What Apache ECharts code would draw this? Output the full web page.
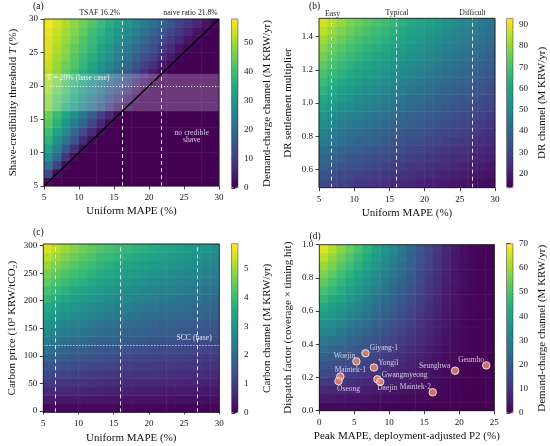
<!DOCTYPE html>
<html>
<head>
<meta charset="utf-8">
<script src="https://cdn.jsdelivr.net/npm/echarts@6/dist/echarts.min.js"></script>
<style>
  html, body { margin: 0; padding: 0; background: #fff; }
  #chart { width: 550px; height: 446px; }
</style>
</head>
<body>
<div id="chart"></div>
<script>
const FONT = 'Liberation Serif';
const viridis = ['#440154', '#482475', '#414487', '#355f8d', '#2a788e', '#21918c',
  '#22a884', '#44bf70', '#7ad151', '#bddf26', '#fde725'];

// ---- (a) demand-charge channel: rows = threshold T (low -> high), cols = uniform MAPE (low -> high)
const aRange = [5, 30];
const aTicks = [5, 10, 15, 20, 25, 30];
const aRefX = [16.2, 21.8];        // TSAF, naive ratio
const aBaseT = 20;
const aCbRange = [0, 58];
const aCbTicks = [0, 10, 20, 30, 40, 50];
const aMatrix = [
  [2, 0, 0, 0, 0, 0, 0, 0, 0, 0, 0, 0, 0, 0, 0, 0, 0, 0, 0, 0],
  [13, 2, 0, 0, 0, 0, 0, 0, 0, 0, 0, 0, 0, 0, 0, 0, 0, 0, 0, 0],
  [22, 11, 2, 0, 0, 0, 0, 0, 0, 0, 0, 0, 0, 0, 0, 0, 0, 0, 0, 0],
  [28, 19, 9, 2, 0, 0, 0, 0, 0, 0, 0, 0, 0, 0, 0, 0, 0, 0, 0, 0],
  [33, 25, 16, 8, 2, 0, 0, 0, 0, 0, 0, 0, 0, 0, 0, 0, 0, 0, 0, 0],
  [37, 29, 22, 15, 7, 2, 0, 0, 0, 0, 0, 0, 0, 0, 0, 0, 0, 0, 0, 0],
  [40, 33, 27, 20, 13, 7, 2, 0, 0, 0, 0, 0, 0, 0, 0, 0, 0, 0, 0, 0],
  [43, 37, 30, 24, 18, 12, 6, 2, 0, 0, 0, 0, 0, 0, 0, 0, 0, 0, 0, 0],
  [45, 39, 34, 28, 22, 17, 11, 6, 2, 0, 0, 0, 0, 0, 0, 0, 0, 0, 0, 0],
  [47, 42, 36, 31, 26, 21, 16, 10, 5, 2, 0, 0, 0, 0, 0, 0, 0, 0, 0, 0],
  [48, 43, 39, 34, 29, 24, 19, 14, 10, 5, 2, 0, 0, 0, 0, 0, 0, 0, 0, 0],
  [50, 45, 41, 36, 32, 27, 23, 18, 14, 9, 5, 2, 0, 0, 0, 0, 0, 0, 0, 0],
  [51, 47, 42, 38, 34, 30, 25, 21, 17, 13, 8, 4, 1, 0, 0, 0, 0, 0, 0, 0],
  [52, 48, 44, 40, 36, 32, 28, 24, 20, 16, 12, 8, 4, 1, 0, 0, 0, 0, 0, 0],
  [53, 49, 45, 42, 38, 34, 30, 26, 23, 19, 15, 11, 8, 4, 1, 0, 0, 0, 0, 0],
  [54, 50, 47, 43, 39, 36, 32, 29, 25, 22, 18, 14, 11, 7, 4, 1, 0, 0, 0, 0],
  [55, 51, 48, 44, 41, 38, 34, 31, 27, 24, 20, 17, 14, 10, 7, 3, 1, 0, 0, 0],
  [55, 52, 49, 46, 42, 39, 36, 33, 29, 26, 23, 20, 16, 13, 10, 7, 3, 1, 0, 0],
  [56, 53, 50, 47, 44, 40, 37, 34, 31, 28, 25, 22, 19, 16, 12, 9, 6, 3, 1, 0],
  [57, 54, 51, 48, 45, 42, 39, 36, 33, 30, 27, 24, 21, 18, 15, 12, 9, 6, 3, 1]
];

// ---- (b) DR channel: rows = settlement multiplier, cols = uniform MAPE
const bXRange = [5, 30];
const bYRange = [0.49, 1.51];
const bYTicks = [0.6, 0.8, 1.0, 1.2, 1.4];
const bRefX = [6.7, 16.0, 26.8];   // Easy, Typical, Difficult
const bCbRange = [13.4, 93];
const bCbTicks = [20, 30, 40, 50, 60, 70, 80, 90];
const bMatrix = [
  [31.2, 29.7, 28.5, 27.5, 26.6, 25.8, 25.0, 24.2, 23.4, 22.7, 21.9, 21.2, 20.5, 19.8, 19.1, 18.4, 17.7, 17.1, 16.4, 15.7],
  [34.2, 32.5, 31.2, 30.1, 29.1, 28.2, 27.4, 26.5, 25.7, 24.8, 24.0, 23.2, 22.5, 21.7, 20.9, 20.2, 19.4, 18.7, 17.9, 17.2],
  [37.2, 35.3, 33.9, 32.7, 31.6, 30.7, 29.8, 28.8, 27.9, 27.0, 26.1, 25.3, 24.4, 23.6, 22.8, 21.9, 21.1, 20.3, 19.5, 18.7],
  [40.2, 38.1, 36.6, 35.3, 34.2, 33.1, 32.1, 31.1, 30.1, 29.2, 28.2, 27.3, 26.4, 25.5, 24.6, 23.7, 22.8, 21.9, 21.1, 20.2],
  [43.1, 41.0, 39.3, 37.9, 36.7, 35.6, 34.5, 33.4, 32.3, 31.3, 30.3, 29.3, 28.3, 27.4, 26.4, 25.4, 24.5, 23.6, 22.6, 21.7],
  [46.1, 43.8, 42.0, 40.5, 39.2, 38.1, 36.9, 35.7, 34.6, 33.5, 32.4, 31.3, 30.3, 29.3, 28.2, 27.2, 26.2, 25.2, 24.2, 23.2],
  [49.1, 46.6, 44.7, 43.1, 41.7, 40.5, 39.3, 38.0, 36.8, 35.6, 34.5, 33.3, 32.3, 31.2, 30.0, 29.0, 27.9, 26.8, 25.7, 24.7],
  [52.1, 49.4, 47.4, 45.8, 44.3, 43.0, 41.7, 40.3, 39.0, 37.8, 36.6, 35.4, 34.2, 33.1, 31.9, 30.7, 29.6, 28.4, 27.3, 26.2],
  [55.0, 52.3, 50.1, 48.4, 46.8, 45.4, 44.0, 42.6, 41.3, 40.0, 38.7, 37.4, 36.2, 35.0, 33.7, 32.5, 31.3, 30.1, 28.9, 27.7],
  [58.0, 55.1, 52.8, 51.0, 49.3, 47.9, 46.4, 44.9, 43.5, 42.1, 40.8, 39.4, 38.1, 36.9, 35.5, 34.2, 33.0, 31.7, 30.4, 29.2],
  [61.0, 57.9, 55.6, 53.6, 51.9, 50.3, 48.8, 47.3, 45.7, 44.3, 42.8, 41.4, 40.1, 38.7, 37.3, 36.0, 34.6, 33.3, 32.0, 30.6],
  [64.0, 60.7, 58.3, 56.2, 54.4, 52.8, 51.2, 49.6, 47.9, 46.4, 44.9, 43.4, 42.0, 40.6, 39.1, 37.7, 36.3, 34.9, 33.5, 32.1],
  [66.9, 63.6, 61.0, 58.8, 56.9, 55.2, 53.6, 51.9, 50.2, 48.6, 47.0, 45.5, 44.0, 42.5, 41.0, 39.5, 38.0, 36.6, 35.1, 33.6],
  [69.9, 66.4, 63.7, 61.5, 59.5, 57.7, 55.9, 54.2, 52.4, 50.8, 49.1, 47.5, 45.9, 44.4, 42.8, 41.2, 39.7, 38.2, 36.7, 35.1],
  [72.9, 69.2, 66.4, 64.1, 62.0, 60.1, 58.3, 56.5, 54.6, 52.9, 51.2, 49.5, 47.9, 46.3, 44.6, 43.0, 41.4, 39.8, 38.2, 36.6],
  [75.9, 72.0, 69.1, 66.7, 64.5, 62.6, 60.7, 58.8, 56.9, 55.1, 53.3, 51.5, 49.9, 48.2, 46.4, 44.8, 43.1, 41.4, 39.8, 38.1],
  [78.8, 74.9, 71.8, 69.3, 67.0, 65.1, 63.1, 61.1, 59.1, 57.2, 55.4, 53.5, 51.8, 50.1, 48.2, 46.5, 44.8, 43.1, 41.3, 39.6],
  [81.8, 77.7, 74.5, 71.9, 69.6, 67.5, 65.5, 63.4, 61.3, 59.4, 57.5, 55.6, 53.8, 52.0, 50.1, 48.3, 46.5, 44.7, 42.9, 41.1],
  [84.8, 80.5, 77.2, 74.5, 72.1, 70.0, 67.8, 65.7, 63.6, 61.6, 59.6, 57.6, 55.7, 53.9, 51.9, 50.0, 48.2, 46.3, 44.5, 42.6],
  [87.8, 83.3, 79.9, 77.1, 74.6, 72.4, 70.2, 68.0, 65.8, 63.7, 61.7, 59.6, 57.7, 55.8, 53.7, 51.8, 49.9, 47.9, 46.0, 44.1]
];

// ---- (c) carbon channel: rows = carbon price, cols = uniform MAPE
const cXRange = [5, 30];
const cYRange = [-2.5, 303];
const cYTicks = [0, 50, 100, 150, 200, 250, 300];
const cRefX = [6.7, 16.0, 26.8];
const cScc = 120;
const cCbRange = [0, 5.85];
const cCbTicks = [0, 1, 2, 3, 4, 5];
const cMatrix = [
  [0.14, 0.13, 0.13, 0.12, 0.12, 0.11, 0.11, 0.11, 0.10, 0.10, 0.10, 0.09, 0.09, 0.09, 0.09, 0.08, 0.08, 0.08, 0.08, 0.08],
  [0.42, 0.40, 0.38, 0.37, 0.35, 0.34, 0.33, 0.32, 0.30, 0.30, 0.29, 0.28, 0.27, 0.27, 0.26, 0.25, 0.25, 0.24, 0.23, 0.23],
  [0.71, 0.67, 0.64, 0.61, 0.59, 0.57, 0.55, 0.53, 0.51, 0.49, 0.48, 0.47, 0.45, 0.44, 0.43, 0.42, 0.41, 0.40, 0.39, 0.38],
  [0.99, 0.94, 0.89, 0.86, 0.82, 0.79, 0.76, 0.74, 0.71, 0.69, 0.67, 0.65, 0.64, 0.62, 0.60, 0.59, 0.57, 0.56, 0.54, 0.53],
  [1.27, 1.20, 1.15, 1.10, 1.06, 1.02, 0.98, 0.95, 0.91, 0.89, 0.86, 0.84, 0.82, 0.80, 0.78, 0.76, 0.74, 0.72, 0.70, 0.68],
  [1.55, 1.47, 1.40, 1.35, 1.29, 1.24, 1.20, 1.16, 1.12, 1.08, 1.05, 1.03, 1.00, 0.97, 0.95, 0.92, 0.90, 0.87, 0.85, 0.83],
  [1.84, 1.74, 1.66, 1.59, 1.53, 1.47, 1.42, 1.37, 1.32, 1.28, 1.24, 1.21, 1.18, 1.15, 1.12, 1.09, 1.06, 1.03, 1.00, 0.98],
  [2.12, 2.01, 1.91, 1.84, 1.76, 1.70, 1.64, 1.58, 1.52, 1.48, 1.44, 1.40, 1.36, 1.33, 1.29, 1.26, 1.23, 1.19, 1.16, 1.13],
  [2.40, 2.27, 2.17, 2.08, 2.00, 1.92, 1.85, 1.79, 1.73, 1.67, 1.63, 1.59, 1.54, 1.50, 1.47, 1.43, 1.39, 1.35, 1.31, 1.28],
  [2.68, 2.54, 2.42, 2.33, 2.23, 2.15, 2.07, 2.00, 1.93, 1.87, 1.82, 1.77, 1.72, 1.68, 1.64, 1.60, 1.55, 1.51, 1.47, 1.43],
  [2.97, 2.81, 2.68, 2.57, 2.47, 2.37, 2.29, 2.21, 2.13, 2.07, 2.01, 1.96, 1.91, 1.86, 1.81, 1.76, 1.72, 1.67, 1.62, 1.58],
  [3.25, 3.08, 2.93, 2.82, 2.70, 2.60, 2.51, 2.42, 2.33, 2.27, 2.20, 2.14, 2.09, 2.04, 1.98, 1.93, 1.88, 1.83, 1.78, 1.73],
  [3.53, 3.34, 3.19, 3.06, 2.94, 2.83, 2.73, 2.63, 2.54, 2.46, 2.39, 2.33, 2.27, 2.21, 2.16, 2.10, 2.04, 1.99, 1.93, 1.88],
  [3.81, 3.61, 3.44, 3.31, 3.17, 3.05, 2.94, 2.84, 2.74, 2.66, 2.59, 2.52, 2.45, 2.39, 2.33, 2.27, 2.21, 2.15, 2.09, 2.03],
  [4.10, 3.88, 3.70, 3.55, 3.41, 3.28, 3.16, 3.05, 2.94, 2.86, 2.78, 2.70, 2.63, 2.57, 2.50, 2.44, 2.37, 2.31, 2.24, 2.18],
  [4.38, 4.15, 3.95, 3.80, 3.64, 3.50, 3.38, 3.26, 3.15, 3.05, 2.97, 2.89, 2.81, 2.74, 2.67, 2.60, 2.53, 2.46, 2.39, 2.33],
  [4.66, 4.41, 4.21, 4.04, 3.88, 3.73, 3.60, 3.47, 3.35, 3.25, 3.16, 3.08, 2.99, 2.92, 2.85, 2.77, 2.70, 2.62, 2.55, 2.48],
  [4.94, 4.68, 4.46, 4.29, 4.11, 3.96, 3.82, 3.68, 3.55, 3.45, 3.35, 3.26, 3.18, 3.10, 3.02, 2.94, 2.86, 2.78, 2.70, 2.63],
  [5.23, 4.95, 4.72, 4.53, 4.35, 4.18, 4.03, 3.89, 3.76, 3.64, 3.54, 3.45, 3.36, 3.27, 3.19, 3.11, 3.02, 2.94, 2.86, 2.78],
  [5.51, 5.22, 4.97, 4.78, 4.58, 4.41, 4.25, 4.10, 3.96, 3.84, 3.73, 3.64, 3.54, 3.45, 3.36, 3.28, 3.19, 3.10, 3.01, 2.93]
];

// ---- (d) demand-charge channel by site: rows = dispatch factor, cols = peak MAPE
const dXRange = [0, 25];
const dYRange = [0, 1];
const dXTicks = [0, 5, 10, 15, 20, 25];
const dYTicks = [0, 0.2, 0.4, 0.6, 0.8, 1.0];
const dCbRange = [0, 70];
const dCbTicks = [0, 10, 20, 30, 40, 50, 60, 70];
const dMatrix = [
  [1.7, 1.6, 1.5, 1.4, 1.3, 1.2, 1.0, 0.9, 0.8, 0.7, 0.6, 0.5, 0.4, 0.3, 0.2, 0.1, 0.1, 0, 0, 0],
  [5.1, 4.8, 4.4, 4.1, 3.8, 3.5, 3.1, 2.8, 2.5, 2.1, 1.8, 1.5, 1.2, 0.9, 0.6, 0.4, 0.2, 0.1, 0.1, 0],
  [8.5, 7.9, 7.4, 6.8, 6.3, 5.8, 5.2, 4.6, 4.1, 3.6, 3.0, 2.4, 1.9, 1.4, 1.0, 0.6, 0.4, 0.2, 0.1, 0.1],
  [11.9, 11.1, 10.3, 9.5, 8.8, 8.1, 7.3, 6.5, 5.8, 5.0, 4.2, 3.4, 2.7, 2.0, 1.4, 0.9, 0.5, 0.3, 0.2, 0.1],
  [15.3, 14.3, 13.3, 12.3, 11.4, 10.4, 9.3, 8.3, 7.4, 6.4, 5.4, 4.4, 3.5, 2.6, 1.8, 1.1, 0.7, 0.4, 0.2, 0.1],
  [18.7, 17.5, 16.2, 15.0, 13.9, 12.7, 11.4, 10.2, 9.1, 7.8, 6.6, 5.4, 4.3, 3.2, 2.2, 1.4, 0.8, 0.4, 0.2, 0.1],
  [22.1, 20.6, 19.2, 17.7, 16.4, 15.0, 13.5, 12.0, 10.7, 9.3, 7.8, 6.3, 5.0, 3.7, 2.6, 1.6, 1.0, 0.5, 0.3, 0.2],
  [25.5, 23.8, 22.1, 20.4, 18.9, 17.3, 15.6, 13.9, 12.4, 10.7, 9.0, 7.3, 5.8, 4.3, 3.0, 1.9, 1.1, 0.6, 0.3, 0.2],
  [28.9, 27.0, 25.1, 23.2, 21.5, 19.6, 17.6, 15.7, 14.0, 12.1, 10.2, 8.3, 6.6, 4.9, 3.4, 2.1, 1.3, 0.7, 0.4, 0.2],
  [32.3, 30.2, 28.0, 25.9, 24.0, 21.9, 19.7, 17.6, 15.7, 13.5, 11.4, 9.3, 7.4, 5.5, 3.8, 2.4, 1.4, 0.8, 0.4, 0.2],
  [35.7, 33.3, 31.0, 28.6, 26.5, 24.2, 21.8, 19.4, 17.3, 15.0, 12.6, 10.2, 8.1, 6.0, 4.2, 2.6, 1.6, 0.8, 0.5, 0.3],
  [39.1, 36.5, 33.9, 31.3, 29.0, 26.5, 23.9, 21.3, 19.0, 16.4, 13.8, 11.2, 8.9, 6.6, 4.6, 2.9, 1.7, 0.9, 0.5, 0.3],
  [42.5, 39.7, 36.9, 34.1, 31.6, 28.8, 25.9, 23.1, 20.6, 17.8, 15.0, 12.2, 9.7, 7.2, 5.0, 3.1, 1.9, 1.0, 0.6, 0.3],
  [45.9, 42.9, 39.8, 36.8, 34.1, 31.1, 28.0, 25.0, 22.3, 19.2, 16.2, 13.2, 10.5, 7.8, 5.4, 3.4, 2.0, 1.1, 0.6, 0.3],
  [49.3, 46.0, 42.8, 39.5, 36.6, 33.4, 30.1, 26.8, 23.9, 20.7, 17.4, 14.1, 11.2, 8.3, 5.8, 3.6, 2.2, 1.2, 0.7, 0.4],
  [52.7, 49.2, 45.7, 42.2, 39.1, 35.7, 32.2, 28.7, 25.6, 22.1, 18.6, 15.1, 12.0, 8.9, 6.2, 3.9, 2.3, 1.2, 0.7, 0.4],
  [56.1, 52.4, 48.7, 45.0, 41.7, 38.0, 34.2, 30.5, 27.2, 23.5, 19.8, 16.1, 12.8, 9.5, 6.6, 4.1, 2.5, 1.3, 0.7, 0.4],
  [59.5, 55.6, 51.6, 47.7, 44.2, 40.3, 36.3, 32.4, 28.9, 24.9, 21.0, 17.1, 13.6, 10.1, 7.0, 4.4, 2.6, 1.4, 0.8, 0.4],
  [62.9, 58.7, 54.6, 50.4, 46.7, 42.6, 38.4, 34.2, 30.5, 26.4, 22.2, 18.0, 14.3, 10.6, 7.4, 4.6, 2.8, 1.5, 0.8, 0.5],
  [66.3, 61.9, 57.5, 53.1, 49.2, 44.9, 40.5, 36.1, 32.2, 27.8, 23.4, 19.0, 15.1, 11.2, 7.8, 4.9, 2.9, 1.6, 0.9, 0.5]
];
const siteNames = ['Giyang-1', 'Woejin', 'Yongil', 'Maintek-1', 'Oseong',
  'Gwangmyeong', 'Daejin', 'Maintek-2', 'Seunghwa', 'Geumho'];
const sitePeakMape = [6.6, 5.3, 7.8, 3.0, 2.75, 8.3, 8.7, 16.2, 19.4, 23.85];
const siteDispatch = [0.346, 0.297, 0.260, 0.206, 0.178, 0.189, 0.174, 0.111, 0.241, 0.273];

// label placement per site (style only)
const siteLabel = {
  'Giyang-1': ['right', [-1, -5]],
  'Woejin': ['left', [4, -5]],
  'Yongil': ['right', [-1, -5]],
  'Maintek-1': ['top', [10, 3]],
  'Oseong': ['bottom', [10, -1]],
  'Gwangmyeong': ['right', [-1, -4]],
  'Daejin': ['bottom', [7, -3]],
  'Maintek-2': ['left', [3.5, -5]],
  'Seunghwa': ['left', [0.5, -5]],
  'Geumho': ['left', [3, -5]]
};

// ---- layout (pixels)
const panels = [
  { box: { left: 44, top: 19, width: 175, height: 167 }, cb: { left: 231.5, top: 19, width: 6.5, height: 169 } },
  { box: { left: 319, top: 18.3, width: 176, height: 169.4 }, cb: { left: 506.5, top: 18.3, width: 6.5, height: 169.4 } },
  { box: { left: 43.3, top: 244, width: 176, height: 168.3 }, cb: { left: 231.5, top: 243.7, width: 6.5, height: 169.3 } },
  { box: { left: 319.3, top: 244.7, width: 175, height: 166 }, cb: { left: 506.5, top: 243.7, width: 6.5, height: 169.3 } }
];

const chart = echarts.init(document.getElementById('chart'), null, { renderer: 'canvas' });

function heatData(m) {
  const out = [];
  m.forEach((row, j) => row.forEach((v, i) => out.push([i, j, v])));
  return out;
}

function catAxis(gridIndex, n) {
  return {
    type: 'category', gridIndex, show: false, boundaryGap: true,
    data: Array.from({ length: n }, (_, i) => String(i))
  };
}

function valAxis(gridIndex, position, range, ticks, name, nameGap, fmt, rich) {
  const nameStyle = { fontFamily: FONT, fontSize: 11, color: '#111' };
  if (rich) nameStyle.rich = rich;
  return {
    type: 'value', gridIndex, position, min: range[0], max: range[1],
    name, nameLocation: 'middle', nameGap,
    nameRotate: (position === 'left' || position === 'right') ? 90 : 0,
    nameTextStyle: nameStyle,
    axisLine: { show: false },
    axisTick: { show: true, inside: false, length: 3.5, customValues: ticks,
      lineStyle: { color: '#111', width: 0.8 } },
    axisLabel: { show: true, customValues: ticks, formatter: fmt || (v => String(v)),
      fontFamily: FONT, fontSize: 9, color: '#111', margin: position === 'bottom' ? 7 : 6 },
    splitLine: { show: false }
  };
}

const grids = [], xAxes = [], yAxes = [], series = [], visualMaps = [];

const mats = [aMatrix, bMatrix, cMatrix, dMatrix];
const cbRanges = [aCbRange, bCbRange, cCbRange, dCbRange];
const cbTicks = [aCbTicks, bCbTicks, cCbTicks, dCbTicks];
const cbNames = ['Demand-charge channel (M KRW/yr)', 'DR channel (M KRW/yr)',
  'Carbon channel (M KRW/yr)', 'Demand-charge channel (M KRW/yr)'];
const xSpecs = [
  [aRange, aTicks, 'Uniform MAPE (%)'],
  [bXRange, aTicks, 'Uniform MAPE (%)'],
  [cXRange, aTicks, 'Uniform MAPE (%)'],
  [dXRange, dXTicks, 'Peak MAPE, deployment-adjusted P2 (%)']
];
const ySpecs = [
  [aRange, aTicks, 'Shave-credibility threshold {i|T} (%)', null],
  [bYRange, bYTicks, 'DR settlement multiplier', v => v.toFixed(1)],
  [cYRange, cYTicks, 'Carbon price (10³ KRW/tCO₂)', null],
  [dYRange, dYTicks, 'Dispatch factor (coverage × timing hit)', v => v.toFixed(1)]
];
const italicRich = { i: { fontStyle: 'italic', fontFamily: FONT, fontSize: 11, color: '#111' } };

panels.forEach((p, k) => {
  const g = 3 * k;
  grids.push(Object.assign({ show: false }, p.box));
  grids.push(Object.assign({ show: true, borderColor: '#111', borderWidth: 0.8,
    backgroundColor: 'transparent', z: 10 }, p.box));
  grids.push(Object.assign({ show: true, borderColor: '#333', borderWidth: 0.5,
    backgroundColor: 'transparent', z: 10 }, p.cb));

  const m = mats[k];
  xAxes.push(catAxis(g, m[0].length));
  yAxes.push(catAxis(g, m.length));

  xAxes.push(valAxis(g + 1, 'bottom', xSpecs[k][0], xSpecs[k][1], xSpecs[k][2], 20));
  yAxes.push(valAxis(g + 1, 'left', ySpecs[k][0], ySpecs[k][1], ySpecs[k][2], 25.5,
    ySpecs[k][3], k === 0 ? italicRich : null));

  xAxes.push({ type: 'value', gridIndex: g + 2, show: false, min: 0, max: 1 });
  yAxes.push(valAxis(g + 2, 'right', cbRanges[k], cbTicks[k], cbNames[k], 24));

  series.push({
    type: 'heatmap', xAxisIndex: g, yAxisIndex: g, data: heatData(m),
    progressive: 0, silent: true, emphasis: { disabled: true },
    itemStyle: { borderWidth: 0 }
  });
  visualMaps.push({
    type: 'continuous', seriesIndex: series.length - 1, dimension: 2,
    min: cbRanges[k][0], max: cbRanges[k][1], inRange: { color: viridis },
    calculable: false, realtime: false, text: null, showLabel: false,
    orient: 'vertical', padding: 0,
    left: p.cb.left, top: p.cb.top, itemWidth: p.cb.width, itemHeight: p.cb.height
  });
});

const dashed = { color: 'rgba(255,255,255,0.85)', type: [4, 3], width: 1 };
const dotted = { color: 'rgba(255,255,255,0.85)', type: [1.2, 1.8], width: 1.1 };

function refLines(xs, ys) {
  return {
    silent: true, symbol: 'none', label: { show: false }, animation: false,
    data: xs.map(v => ({ xAxis: v, lineStyle: dashed }))
      .concat((ys || []).map(v => ({ yAxis: v, lineStyle: dotted })))
  };
}

// (a) overlay: translucent band between TSAF and naive ratio thresholds
series.push({
  type: 'custom', xAxisIndex: 1, yAxisIndex: 1, silent: true, z: 4,
  data: [[aRange[0], aRange[1], aRefX[0], aRefX[1]]],
  renderItem: (params, api) => {
    const p0 = api.coord([api.value(0), api.value(3)]);
    const p1 = api.coord([api.value(1), api.value(2)]);
    return { type: 'rect', shape: { x: p0[0], y: p0[1], width: p1[0] - p0[0], height: p1[1] - p0[1] },
      style: { fill: 'rgba(255,255,255,0.22)' } };
  }
});
// (a) diagonal T = MAPE plus reference lines
series.push({
  type: 'line', xAxisIndex: 1, yAxisIndex: 1, silent: true, symbol: 'none', z: 5,
  data: [[aRange[0], aRange[0]], [aRange[1], aRange[1]]],
  lineStyle: { color: '#000', width: 1.4 },
  markLine: refLines(aRefX, [aBaseT])
});
// (b) overlay
series.push({ type: 'line', xAxisIndex: 4, yAxisIndex: 4, data: [], silent: true,
  markLine: refLines(bRefX) });
// (c) overlay
series.push({ type: 'line', xAxisIndex: 7, yAxisIndex: 7, data: [], silent: true,
  markLine: refLines(cRefX, [cScc]) });
// (d) overlay: sites
series.push({
  type: 'scatter', xAxisIndex: 10, yAxisIndex: 10, symbolSize: 7.5, z: 6,
  itemStyle: { color: '#ef8a6e', borderColor: '#fff', borderWidth: 1 },
  label: { show: true, distance: 1, fontFamily: FONT, fontSize: 7.5, color: '#f3ecf6',
    formatter: p => p.name },
  data: siteNames.map((n, i) => ({
    name: n, value: [sitePeakMape[i], siteDispatch[i]],
    label: { position: siteLabel[n][0], offset: siteLabel[n][1] }
  }))
});

function txt(text, x, y, size, color, align) {
  return {
    type: 'text', x, y, silent: true, z: 20,
    style: { text, fill: color, font: size + 'px "' + FONT + '"',
      textAlign: align || 'left', textVerticalAlign: 'middle',
      align: align || 'left', verticalAlign: 'middle' }
  };
}
const lightTxt = 'rgba(255,255,255,0.85)';
const graphics = [
  txt('(a)', 33, 6.5, 9.5, '#111'),
  txt('TSAF 16.2%', 120, 13.3, 7.7, '#222', 'right'),
  txt('naive ratio 21.8%', 163.3, 13.3, 7.7, '#222', 'left'),
  txt('T = 20% (base case)', 46.7, 78.3, 7.7, lightTxt),
  txt('no credible', 191.7, 133.3, 7.7, '#d8c8ea', 'center'),
  txt('shave', 191.7, 140.3, 7.7, '#d8c8ea', 'center'),
  txt('(b)', 309, 6.5, 9.5, '#111'),
  txt('Easy', 332.5, 14, 7.7, '#222', 'center'),
  txt('Typical', 397, 13.3, 7.7, '#222', 'center'),
  txt('Difficult', 472.5, 13.3, 7.7, '#222', 'center'),
  txt('(c)', 33, 232, 9.5, '#111'),
  txt('SCC (base)', 211.7, 338.3, 7.7, lightTxt, 'right'),
  txt('(d)', 309.5, 236.5, 9.5, '#111')
];

chart.setOption({
  animation: false,
  backgroundColor: '#fff',
  grid: grids,
  xAxis: xAxes,
  yAxis: yAxes,
  visualMap: visualMaps,
  series: series,
  graphic: graphics
});
</script>
</body>
</html>
